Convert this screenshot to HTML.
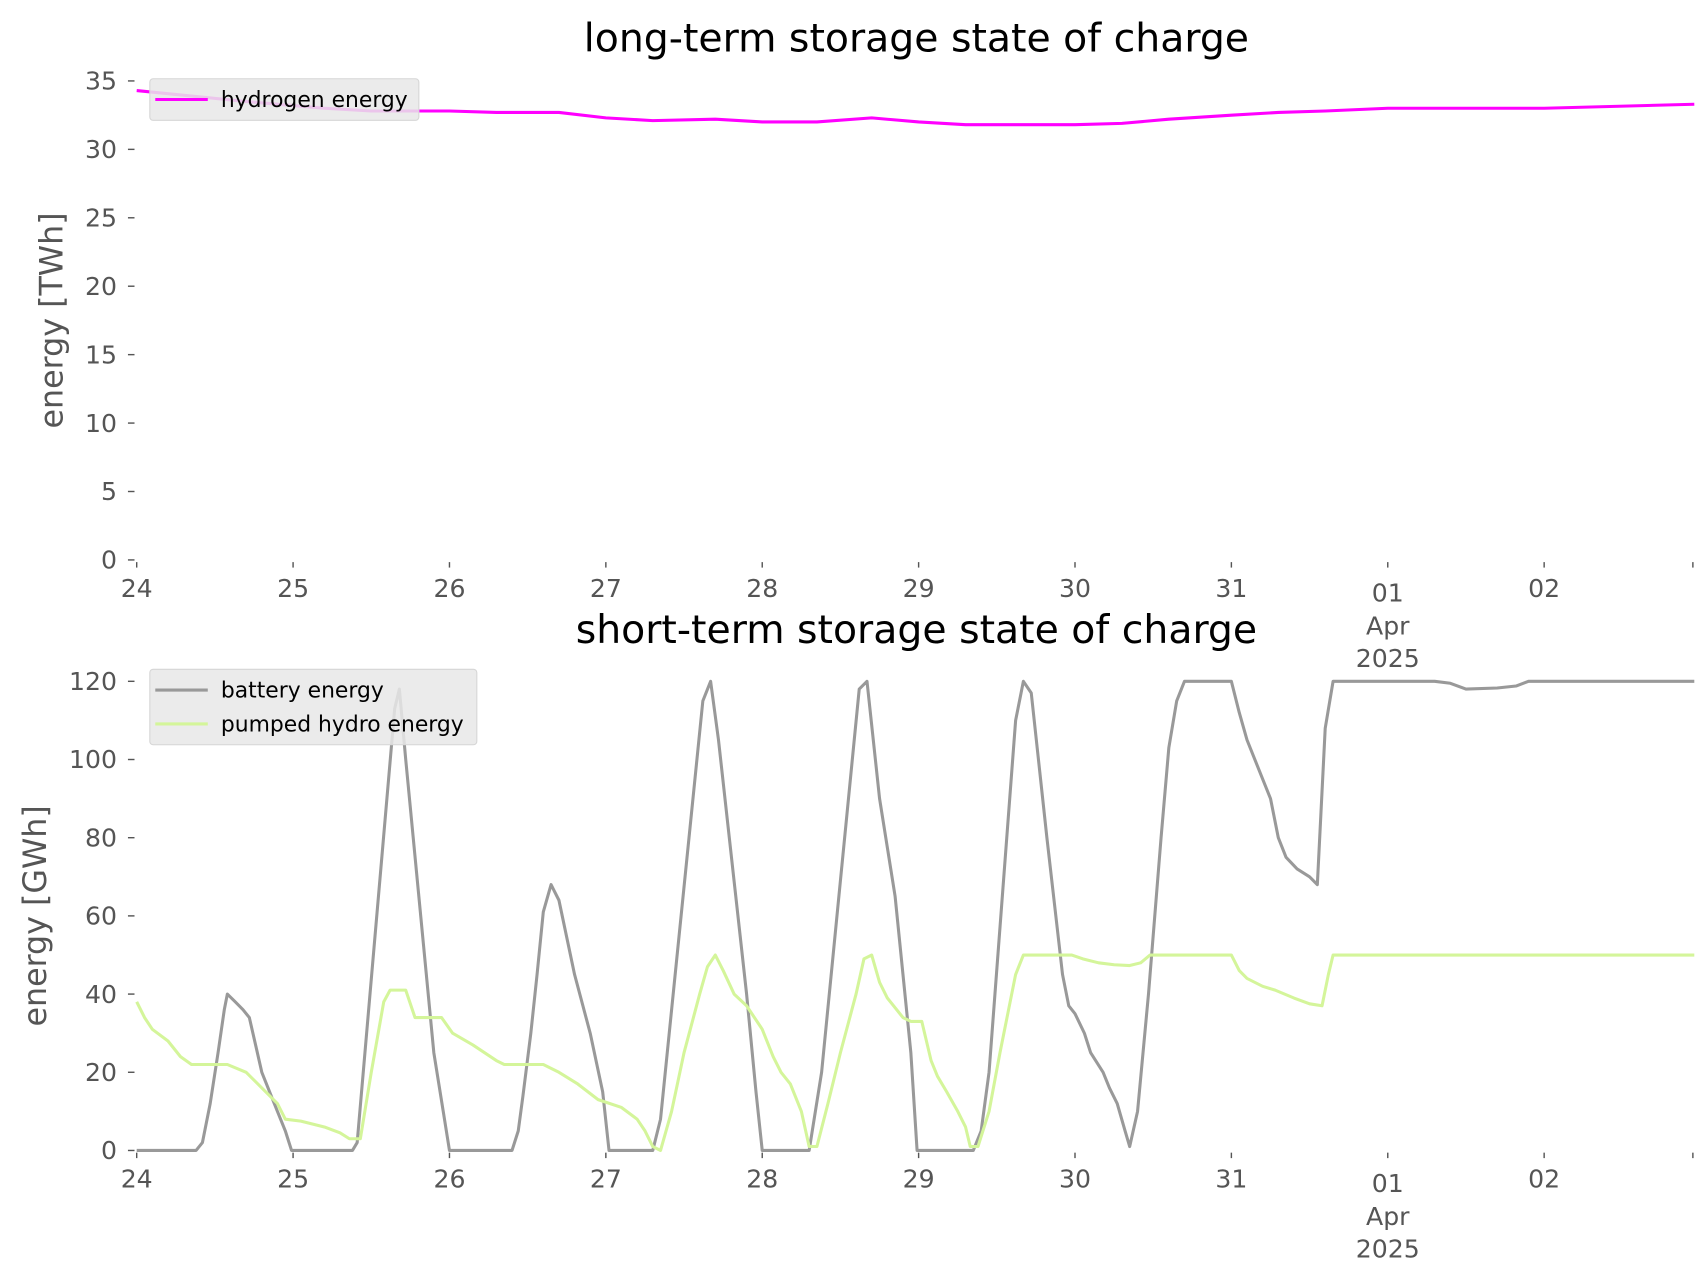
<!DOCTYPE html>
<html><head><meta charset="utf-8"><style>
body{margin:0;background:#fff}
svg{display:block;font-family:"DejaVu Sans","Liberation Sans",sans-serif}
</style></head><body>
<svg id="chart" width="1706" height="1277" viewBox="0 0 1560 1167.7">
<g id="top"></g>
<g id="bot"></g>
</svg>
<script>
const dayLabels = ["24","25","26","27","28","29","30","31","01","02"];
const hydroT = [0,0.7,1.2,1.5,2,2.3,2.7,3,3.3,3.7,4,4.35,4.7,5.0,5.3,5.7,6,6.3,6.6,7,7.3,7.6,8,9,9.96];
const hydroV = [34.3,33.5,33,32.8,32.8,32.7,32.7,32.3,32.1,32.2,32.0,32.0,32.3,32.0,31.8,31.8,31.8,31.9,32.2,32.5,32.7,32.8,33.0,33.0,33.3];
const topTicks = [0,5,10,15,20,25,30,35];
const botTicks = [0,20,40,60,80,100,120];
const batT = [0,0.38,0.42,0.47,0.52,0.56,0.58,0.63,0.68,0.72,0.8,0.9,0.95,0.99,1.38,1.41,1.65,1.68,1.72,1.9,1.96,2.0,2.4,2.44,2.47,2.52,2.56,2.6,2.65,2.7,2.8,2.9,2.98,3.02,3.3,3.35,3.62,3.67,3.72,3.9,3.96,4.0,4.3,4.38,4.62,4.67,4.75,4.85,4.95,4.99,5.35,5.4,5.45,5.62,5.67,5.72,5.82,5.92,5.96,6.0,6.06,6.1,6.18,6.22,6.27,6.32,6.35,6.4,6.47,6.55,6.6,6.65,6.7,7.0,7.05,7.1,7.2,7.25,7.3,7.35,7.42,7.5,7.55,7.6,7.65,8.3,8.4,8.5,8.7,8.82,8.9,9.96];
const batV = [0,0,2,12,25,36,40,38,36,34,20,10,5,0,0,2,113,118,100,25,10,0,0,5,14,30,45,61,68,64,45,30,15,0,0,8,115,120,105,40,15,0,0,20,118,120,90,65,25,0,0,5,20,110,120,117,80,45,37,35,30,25,20,16,12,5,1,10,40,80,103,115,120,120,112,105,95,90,80,75,72,70,68,108,120,120,119.5,118,118.3,118.8,120,120];
const phT = [0,0.05,0.1,0.2,0.28,0.35,0.58,0.7,0.8,0.9,0.95,1.05,1.2,1.3,1.36,1.43,1.5,1.58,1.62,1.72,1.78,1.88,1.95,2.02,2.15,2.3,2.35,2.6,2.7,2.82,2.95,3.1,3.2,3.25,3.3,3.35,3.42,3.5,3.6,3.65,3.7,3.75,3.82,3.9,4.0,4.07,4.12,4.18,4.25,4.3,4.35,4.42,4.5,4.6,4.65,4.7,4.75,4.8,4.9,4.95,5.02,5.08,5.12,5.18,5.25,5.3,5.33,5.38,5.45,5.52,5.62,5.67,5.98,6.05,6.15,6.25,6.35,6.42,6.48,7.0,7.05,7.1,7.2,7.28,7.4,7.5,7.58,7.62,7.65,9.96];
const phV = [38,34,31,28,24,22,22,20,16,12,8,7.5,6,4.5,3,3,20,38,41,41,34,34,34,30,27,23,22,22,20,17,13,11,8,5,1,0,10,25,40,47,50,46,40,37,31,24,20,17,10,1,1,12,25,40,49,50,43,39,34,33,33,23,19,15,10,6,1,1,10,25,45,50,50,49,48,47.5,47.3,48,50,50,46,44,42,41,39,37.5,37,45,50,50];

const NS="http://www.w3.org/2000/svg";
function mk(parent,tag,attrs,text){const e=document.createElementNS(NS,tag);for(const k in attrs)e.setAttribute(k,attrs[k]);if(text!==undefined)e.textContent=text;parent.appendChild(e);return e;}
const X0=125, DAY=143, XEND=1548;
const xs = d => X0 + d*DAY;

function panel(g, y0px, pxPerUnit, ticks, title, titleY, ylabel, ylabelX, series, legend){
  const ys = v => y0px - v*pxPerUnit;
  const t=mk(g,'text',{x:838,y:titleY,'text-anchor':'middle','font-size':'36',fill:'#000'},title);
  
  
  const cy=ys((ticks[0]+ticks[ticks.length-1])/2);
  const yl=mk(g,'text',{x:ylabelX,y:cy,'text-anchor':'middle','font-size':'29',fill:'#555',transform:`rotate(-90 ${ylabelX} ${cy})`},ylabel);
  
  
  ticks.forEach(v=>{
    const tk=mk(g,'line',{x1:117,x2:123,y1:ys(v),y2:ys(v),stroke:'#555','stroke-width':1.3});
    
    
    const tl=mk(g,'text',{x:107,y:ys(v)+8,'text-anchor':'end','font-size':'23',fill:'#555'},String(v));
    
    
  });
  dayLabels.forEach((lab,i)=>{
    const x=xs(i);
    const tk=mk(g,'line',{x1:x,x2:x,y1:y0px+2,y2:y0px+7,stroke:'#555','stroke-width':1.3});
    
    
    const lines = lab==="01" ? ["01","Apr","2025"] : [lab];
    lines.forEach((s,j)=>{
      const tl=mk(g,'text',{x:x,y:y0px+(lab==="01"?38:34)+j*30,'text-anchor':'middle','font-size':'23',fill:'#555'},s);
      
      
    });
  });
  const te=mk(g,'line',{x1:XEND,x2:XEND,y1:y0px+2,y2:y0px+7,stroke:'#555','stroke-width':1.3});
  
  
  series.forEach(s=>{
    const d=s.t.map((tt,i)=>(i?'L':'M')+xs(tt).toFixed(1)+' '+ys(s.v[i]).toFixed(1)).join(' ');
    const p=mk(g,'path',{d:d,fill:'none',stroke:s.c,'stroke-width':2.8,'stroke-linejoin':'round'});
    
    
  });
  const lg=mk(g,'g',{});
  
  
  mk(lg,'rect',{x:137,y:legend.y,width:legend.w,height:series.length*31+7,rx:3,fill:'#e8e8e8','fill-opacity':0.85,stroke:'#d6d6d6'});
  series.forEach((s,i)=>{
    const yy=legend.y+19+i*31;
    mk(lg,'line',{x1:142,x2:190,y1:yy,y2:yy,stroke:s.c,'stroke-width':2.8});
    const lt=mk(lg,'text',{x:202,y:yy+7,'font-size':'20',fill:'#000'},s.label);
    
    
  });
}
panel(document.getElementById('top'),512,438/35,topTicks,'long-term storage state of charge',47,'energy [TWh]',57,
  [{t:hydroT,v:hydroV,c:'#ff00ff',name:'hydrogen-line',label:'hydrogen energy'}],{y:72,w:246});
panel(document.getElementById('bot'),1052,429/120,botTicks,'short-term storage state of charge',588,'energy [GWh]',42,
  [{t:batT,v:batV,c:'#999999',name:'battery-line',label:'battery energy'},
   {t:phT,v:phV,c:'#d4f59a',name:'pumped-hydro-line',label:'pumped hydro energy'}],{y:612,w:299});
</script>
</body></html>
